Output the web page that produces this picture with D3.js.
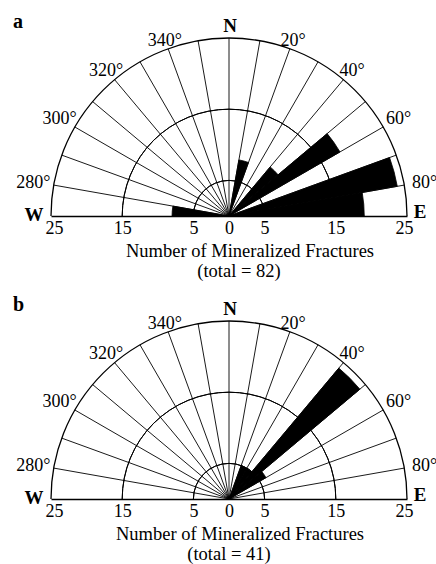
<!DOCTYPE html>
<html>
<head>
<meta charset="utf-8">
<script src="https://cdn.jsdelivr.net/npm/d3@7/dist/d3.min.js"></script>
<style>
  html, body { margin: 0; padding: 0; background: #fff; }
  svg { display: block; }
  text { font-family: "Liberation Serif", "Times New Roman", serif; fill: #000; }
</style>
</head>
<body>
<svg id="chart" width="436" height="564"></svg>
<script>
// ---- data ----
// 10-degree bins (start azimuth, degrees), 270..350 then 0..80
const binStarts = [270, 280, 290, 300, 310, 320, 330, 340, 350, 0, 10, 20, 30, 40, 50, 60, 70, 80];
const countsA   = [  8,   0,   0,   0,   0,   0,   0,   0,   0, 0,  8,  0,  0,  9, 18,  0, 24, 19];
const countsB   = [  0,   0,   0,   0,   0,   0,   0,   0,   0, 0,  0,  5,  5, 24,  6,  0,  0,  0];
const panelLetters = ["a", "b"];
const totals = [82, 41];
const ringValues = [5, 15, 25];
const tickValues = [-25, -15, -5, 0, 5, 15, 25];
const dirLabels = ["280°", "300°", "320°", "340°", "20°", "40°", "60°", "80°"];
const dirAngles = [-80, -60, -40, -20, 20, 40, 60, 80];
const axisTitle = "Number of Mineralized Fractures";

const svg = d3.select("#chart");
const R = 178;
const rad = d => d * Math.PI / 180;

const panels = [
  { cx: 229, cy: 216, counts: countsA, titleX: 250 },
  { cx: 229, cy: 499, counts: countsB, titleX: 240 }
];

panels.forEach((p, i) => {
  const g = svg.append("g").attr("transform", `translate(${p.cx},${p.cy})`);
  const r = d3.scaleLinear().domain([0, 25]).range([0, R]);

  // rings
  ringValues.forEach(v => {
    g.append("path")
      .attr("d", d3.arc()({ innerRadius: r(v), outerRadius: r(v), startAngle: -Math.PI / 2, endAngle: Math.PI / 2 }))
      .attr("fill", "none")
      .attr("stroke", "#000")
      .attr("stroke-width", v === 25 ? 1.3 : 1);
  });

  // spokes every 10 degrees
  const spokeAngles = d3.range(-80, 90, 10);
  g.selectAll("line.spoke").data(spokeAngles).enter().append("line")
    .attr("x1", 0).attr("y1", 0)
    .attr("x2", d => R * Math.sin(rad(d)))
    .attr("y2", d => -R * Math.cos(rad(d)))
    .attr("stroke", "#000").attr("stroke-width", 0.9);

  // bars
  const arc = d3.arc().innerRadius(0);
  const bins = binStarts.map((s, k) => {
    const a0 = s >= 180 ? s - 360 : s;
    return { a0, a1: a0 + 10, v: p.counts[k] };
  }).filter(d => d.v > 0);
  g.selectAll("path.bar").data(bins).enter().append("path")
    .attr("d", d => arc({ outerRadius: r(d.v), startAngle: rad(d.a0), endAngle: rad(d.a1) }))
    .attr("fill", "#000").attr("stroke", "#000").attr("stroke-width", 0.8);

  // axis along baseline
  const x = d3.scaleLinear().domain([-25, 25]).range([-R, R]);
  const ax = g.append("g").call(
    d3.axisBottom(x).tickValues(tickValues).tickFormat(d => Math.abs(d)).tickSizeInner(0).tickSizeOuter(0).tickPadding(5)
  );
  ax.select(".domain").attr("stroke", "#000").attr("stroke-width", 1.4);
  ax.selectAll("text").attr("font-size", 18).attr("font-family", "Liberation Serif").attr("fill", "#000");
  ax.selectAll(".tick").filter(d => Math.abs(d) === 25)
    .select("text").attr("dx", d => d < 0 ? 3 : -3);

  // direction labels
  dirAngles.forEach((a, k) => {
    const s = Math.sin(rad(a));
    const rr = R + 8 + 13 * s * s;
    g.append("text")
      .attr("x", rr * s)
      .attr("y", -rr * Math.cos(rad(a)))
      .attr("dy", "0.35em")
      .attr("text-anchor", "middle")
      .attr("font-size", 18)
      .text(dirLabels[k]);
  });
  g.append("text").attr("x", 1).attr("y", -R - 6).attr("text-anchor", "middle")
    .attr("font-size", 19).attr("font-weight", "bold").text("N");
  g.append("text").attr("x", -195).attr("y", 5).attr("text-anchor", "middle")
    .attr("font-size", 19).attr("font-weight", "bold").text("W");
  g.append("text").attr("x", 191).attr("y", 2).attr("text-anchor", "middle")
    .attr("font-size", 19).attr("font-weight", "bold").text("E");

  // panel letter
  g.append("text").attr("x", 13 - p.cx).attr("y", -188).attr("font-size", 20)
    .attr("font-weight", "bold").text(panelLetters[i]);

  // axis title
  g.append("text").attr("x", p.titleX - p.cx).attr("y", 40.5).attr("text-anchor", "middle")
    .attr("font-size", 18.5).text(axisTitle);
  g.append("text").attr("x", p.titleX - p.cx - 11).attr("y", 61).attr("text-anchor", "middle")
    .attr("font-size", 18.5).text(`(total = ${totals[i]})`);
});
</script>
</body>
</html>
